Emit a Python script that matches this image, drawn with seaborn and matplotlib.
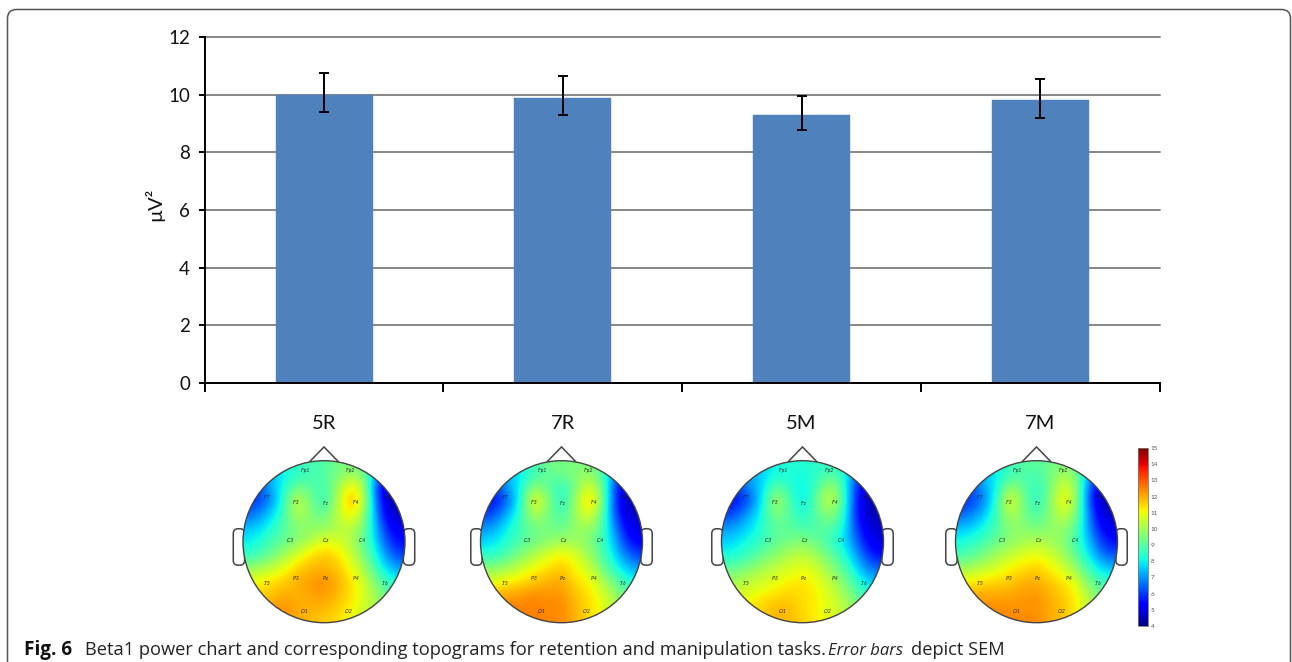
import numpy as np
import pandas as pd
import matplotlib
matplotlib.use('Agg')
import matplotlib.pyplot as plt
from matplotlib.patches import Circle, FancyBboxPatch, Polygon
from matplotlib.cm import ScalarMappable
from matplotlib.colors import Normalize
import seaborn as sns

W, H = 1292, 662

tasks = ['5R', '7R', '5M', '7M']
power = [10.0, 9.9, 9.3, 9.8]
err_low = [9.4, 9.3, 8.78, 9.2]
err_high = [10.75, 10.65, 9.95, 10.55]

channels = ['Fp1', 'Fp2', 'F7', 'F3', 'Fz', 'F4', 'F8', 'C3', 'Cz', 'C4',
            'T5', 'P3', 'Pz', 'P4', 'T6', 'O1', 'O2']
channel_x = [-.23, .33, -.70, -.34, .02, .40, .78, -.42, .03, .48,
             -.70, -.34, .02, .40, .76, -.24, .31]
channel_y = [.88, .88, .55, .49, .47, .49, .55, .01, .01, .01,
             -.52, -.46, -.45, -.46, -.52, -.86, -.86]

# power on a scalp grid, rows front to back, columns left to right
topo_5r = [[7, 7, 7.5, 8, 8, 8.5, 8.5, 9, 9, 8.5, 7.5, 6.5, 6],
           [6, 6, 7, 7.5, 8, 8.3, 8.5, 9, 9.5, 9, 6.5, 5, 5],
           [5.5, 5.5, 6.8, 7.8, 9, 8.6, 8.3, 9.5, 11, 9.8, 5, 4.2, 4],
           [5.5, 5.5, 6.3, 8, 10.3, 9, 8, 9.7, 11.8, 10, 5.5, 4, 4],
           [6, 6.3, 7.2, 8.2, 10, 9.2, 8.7, 10, 11, 9.5, 6, 4.2, 4.5],
           [7, 7.2, 7.8, 8.5, 9.2, 9.3, 9.3, 9.8, 10, 9, 6.5, 4.7, 4.8],
           [7.5, 7.7, 8.3, 8.8, 9.2, 9.8, 10.5, 10.3, 9.8, 8.7, 7, 5.2, 5],
           [8, 8.2, 8.8, 9.5, 10.3, 11, 11.3, 11, 10.2, 9, 7.5, 6, 5.5],
           [9.5, 9.5, 10, 10.5, 11.2, 11.4, 11.5, 11.3, 10.6, 9.7, 8, 7, 6.5],
           [10.5, 10.7, 11, 11.2, 11.5, 11.8, 12, 11.6, 11, 10.2, 8.8, 8, 7.5],
           [11, 11, 11.3, 11.6, 11.5, 11.7, 11.8, 11.4, 11, 10.3, 9.5, 8.5, 8],
           [11, 11.5, 11.8, 12, 11.6, 11.5, 11.5, 11.2, 10.8, 10.2, 9.5, 9, 8.5],
           [11, 11.5, 11.8, 12, 11.6, 11.4, 11.2, 11, 10.5, 10, 9.5, 9, 8.5]]
topo_7r = [[7, 7, 7.5, 8, 8.5, 9, 9, 9, 9, 8.5, 7.5, 6.5, 6],
           [6, 6, 7, 7.5, 8.2, 8.8, 9, 9.2, 9.5, 8.5, 6.2, 5, 5],
           [5.5, 5.5, 6.8, 7.8, 9.5, 8.6, 8, 9, 10.5, 9, 5.3, 4.3, 4],
           [5, 5, 6, 8, 11, 9.2, 7.8, 9.5, 11.5, 9.2, 5.2, 4, 4],
           [5.5, 5.8, 7, 8.2, 10, 9, 8.2, 9.5, 10.7, 8.8, 5.5, 4.2, 4.5],
           [6.5, 6.8, 7.6, 8.4, 9, 9, 8.8, 9.4, 9.6, 8.5, 6.2, 4.5, 4.7],
           [7.2, 7.4, 8, 8.5, 8.9, 9.3, 9.5, 9.5, 9.2, 8.3, 6.8, 5, 4.8],
           [8, 8, 8.5, 9.2, 9.8, 10.4, 10.8, 10.4, 9.5, 8.5, 7.2, 6, 5.5],
           [9.2, 9.3, 9.6, 10.2, 10.7, 11, 11.3, 10.7, 10.2, 9, 7.8, 7, 6.5],
           [10.3, 10.5, 10.8, 11, 11.3, 11.5, 11.7, 11, 10.8, 9.8, 8.7, 8, 7.5],
           [11, 11.5, 11.7, 11.8, 12, 11.9, 11.9, 11.3, 11, 10.4, 9.5, 8.6, 8],
           [12, 12, 12.2, 12.1, 12.1, 12, 12, 11.5, 11, 10.6, 9.8, 9, 8.5],
           [12, 12, 12.2, 12.2, 12.1, 12, 12, 11.5, 11, 10.6, 9.8, 9, 8.5]]
topo_5m = [[7, 7, 7.3, 7.5, 7.8, 8, 8, 8, 8, 8, 7.3, 6.5, 6],
           [6, 6, 6.8, 7.2, 7.7, 7.8, 7.8, 8, 8.5, 8, 6, 5, 5],
           [5.5, 5.5, 6.5, 7.3, 8.8, 8, 7.5, 8.3, 9.8, 8.3, 5.2, 4.3, 4],
           [5, 5, 5.8, 7.5, 10, 8.5, 7.3, 8.8, 10.4, 8.5, 5, 4, 4],
           [5.5, 5.8, 6.8, 7.8, 9.3, 8.5, 7.8, 8.6, 9.5, 8.2, 5, 4.1, 4.3],
           [6.5, 6.8, 7.3, 8, 8.7, 8.7, 8.3, 8.5, 8.7, 7.8, 5.5, 4.3, 4.5],
           [7.2, 7.4, 7.8, 8.2, 8.7, 9, 9.2, 8.8, 8.2, 7.5, 6, 4.6, 4.5],
           [7.7, 7.8, 8.2, 8.8, 9.3, 9.8, 10, 9.6, 8.8, 8, 6.7, 5.2, 5],
           [8.7, 8.8, 9.2, 9.7, 10, 10.3, 10.5, 10.2, 9.4, 8.6, 7.3, 6.2, 6],
           [9.5, 9.7, 10, 10.2, 10.5, 10.8, 11, 10.6, 10, 9.2, 8, 7.2, 7],
           [10, 10.2, 10.5, 10.8, 11, 11.2, 11, 10.8, 10.3, 9.7, 8.7, 8, 7.5],
           [10.5, 10.5, 11, 11.2, 11.5, 11.4, 11, 10.8, 10.4, 10, 9.2, 8.5, 8],
           [10.5, 10.5, 11, 11.2, 11.5, 11.4, 11.2, 10.8, 10.4, 10, 9.2, 8.5, 8]]
topo_7m = [[7, 7, 7.5, 8, 8.3, 8.7, 8.7, 8.8, 9, 8.8, 7.5, 6.5, 6],
           [6.3, 6.3, 7, 7.5, 8.2, 8.5, 8.4, 9, 9.7, 9, 6.5, 5, 5],
           [5.7, 5.7, 6.7, 7.6, 9.5, 8.7, 8, 9, 10.5, 9.3, 5.5, 4.3, 4],
           [5.3, 5.5, 6.2, 8, 10.8, 9, 7.8, 9.3, 11, 9.3, 5.2, 4, 4],
           [6, 6.2, 7, 8.2, 10, 9, 8.3, 9.3, 10.3, 9, 5.8, 4.2, 4.5],
           [7, 7.2, 7.7, 8.4, 9.3, 9.3, 9, 9.3, 9.5, 8.5, 6.2, 4.6, 4.8],
           [7.7, 7.9, 8.3, 8.8, 9.3, 9.6, 9.8, 9.6, 9.2, 8.2, 6.8, 5.2, 5],
           [8.3, 8.5, 9, 9.6, 10, 10.4, 10.6, 10.2, 9.6, 8.5, 7.3, 6, 5.8],
           [9.5, 9.6, 10, 10.3, 10.8, 11, 11.2, 10.8, 10.2, 9.3, 8, 7.2, 7],
           [10.8, 10.8, 11, 11.1, 11.2, 11.5, 11.6, 11.2, 11, 10.3, 8.8, 8.2, 8],
           [11.5, 11.5, 11.7, 11.6, 11.7, 11.8, 11.9, 11.5, 11.2, 10.7, 9.6, 8.7, 8.3],
           [12, 12, 12, 12, 11.9, 11.9, 11.9, 11.6, 11.3, 10.8, 10, 9, 8.5],
           [12, 12, 12.2, 12.1, 12, 12, 12, 11.6, 11.3, 10.8, 10, 9, 8.5]]
topos = [topo_5r, topo_7r, topo_5m, topo_7m]
head_centers = [324, 561.5, 802.5, 1036.5]
scale_ticks = list(range(4, 16))
# grid values were read a little low against the colour bar
read_offset = 0.4


def px_axes(fig, left, top, right, bottom, **kw):
    # axes placed by reference pixels
    return fig.add_axes([left / W, 1 - bottom / H, (right - left) / W, (bottom - top) / H], **kw)


sns.set_theme(style='white')
plt.rcParams['font.family'] = ['Lato', 'DejaVu Sans']

fig = plt.figure(figsize=(W / 100, H / 100), dpi=100)

# frame and caption
bg = px_axes(fig, 0, 0, W, H)
bg.set_xlim(0, W)
bg.set_ylim(H, 0)
bg.axis('off')
bg.add_patch(FancyBboxPatch((7.5, 9.5), 1283, 700, boxstyle='round,pad=0,rounding_size=9',
                            fc='none', ec='#555555', lw=1.1))
cap = dict(family=['Open Sans', 'DejaVu Sans'], fontsize=13.15, color='#222222', va='baseline')
bg.text(24, 655, 'Fig. 6', fontweight='bold', **{**cap, 'color': '#111111', 'fontsize': 13.6})
bg.text(85, 655, 'Beta1 power chart and corresponding topograms for retention and manipulation tasks.', **cap)
bg.text(828, 655, 'Error bars', style='italic', **{**cap, 'fontsize': 12})
bg.text(911, 655, 'depict SEM', **cap)

# bar chart
ax = px_axes(fig, 204.7, 37, 1159.7, 383)
df = pd.DataFrame({'task': tasks, 'power': power})
sns.barplot(data=df, x='task', y='power', ax=ax, color='#4f81bd', saturation=1, width=0.406,
            edgecolor='#4f81bd', linewidth=0.3, zorder=3)
low = np.array(power) - np.array(err_low)
high = np.array(err_high) - np.array(power)
ax.errorbar(range(len(tasks)), power, yerr=[low, high], fmt='none', ecolor='black',
            elinewidth=1.4, capsize=3.6, capthick=1.4, zorder=4)
ax.set_xlim(-0.5, 3.5)
ax.set_ylim(0, 12)
ax.set_yticks(range(0, 13, 2))
ax.set_xlabel('')
ax.set_ylabel('µV²', fontsize=14.5, color='#111111', labelpad=3, y=0.515)
ax.set_xticks([-.5, .5, 1.5, 2.5, 3.5], minor=True)
ax.tick_params(axis='x', which='major', length=0, pad=23, labelsize=14.5, labelcolor='#111111')
ax.tick_params(axis='x', which='minor', length=6.5, width=1.4, color='black', bottom=True)
ax.tick_params(axis='y', length=4.5, width=1.4, color='black', left=True, pad=6,
               labelsize=13.5, labelcolor='#111111')
ax.yaxis.grid(True, color='#868686', lw=1.4, zorder=0)
for line in ax.get_ygridlines():
    line.set_clip_on(False)
ax.set_axisbelow(True)
ax.patch.set_alpha(0)
for side in ['top', 'right']:
    ax.spines[side].set_visible(False)
for side in ['left', 'bottom']:
    ax.spines[side].set_color('black')
    ax.spines[side].set_linewidth(1.4)
    ax.spines[side].set_zorder(5)

# topograms
norm = Normalize(4, 15)
r_px = 81
cy = 541.7
half = 1 + 1 / 12
for center, grid in zip(head_centers, topos):
    hx = px_axes(fig, center - 1.2 * r_px, cy - 1.2 * r_px, center + 1.2 * r_px, cy + 1.2 * r_px)
    hx.set_xlim(-1.2, 1.2)
    hx.set_ylim(-1.2, 1.2)
    hx.axis('off')
    for ear_x in [-1.08, 1.02]:
        hx.add_patch(FancyBboxPatch((ear_x, -.25), .06, .37,
                                    boxstyle='round,pad=0.04,rounding_size=0.06',
                                    fc='white', ec='#444444', lw=1.1))
    hx.add_patch(Polygon([[-.18, .985], [0, 1.17], [.18, .985]], closed=False, fc='white',
                         ec='#444444', lw=1.1))
    im = hx.imshow(np.array(grid) + read_offset, cmap='jet', norm=norm,
                   extent=[-half, half, -half, half], interpolation='bicubic',
                   interpolation_stage='data', origin='upper', aspect='auto', zorder=2)
    clip = Circle((0, 0), 1.0, transform=hx.transData)
    im.set_clip_path(clip)
    hx.add_patch(Circle((0, 0), 1.0, fc='none', ec='#444444', lw=1.0, zorder=3))
    for name, x, y in zip(channels, channel_x, channel_y):
        hx.text(x, y, '.' + name, fontsize=3.6, color='#222222', ha='center', va='center',
                style='italic', zorder=4)

# colour scale
cax = px_axes(fig, 1138, 448, 1148, 626)
cb = fig.colorbar(ScalarMappable(norm=norm, cmap='jet'), cax=cax, ticks=scale_ticks)
cb.outline.set_edgecolor('#777777')
cb.outline.set_linewidth(0.6)
cb.ax.tick_params(length=1.5, width=0.4, color='#777777', pad=2, labelsize=4.6, labelcolor='#555555',
                  right=True, direction='in')

fig.savefig('out.png', dpi=100)
